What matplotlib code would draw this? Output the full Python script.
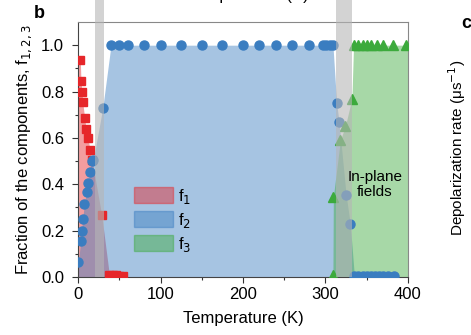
import matplotlib
matplotlib.use("Agg")
import matplotlib.pyplot as plt
from matplotlib.patches import Patch, Rectangle
import matplotlib.transforms as mtransforms
import numpy as np

plt.rcParams['font.family'] = ['Liberation Sans', 'DejaVu Sans']

# f1 (red squares)
T1 = [2.8, 3.6, 4.8, 5.7, 8.1, 9.7, 12, 14.5, 17, 28.7, 38, 42, 46, 50, 54]
f1 = [0.935, 0.846, 0.80, 0.754, 0.685, 0.64, 0.60, 0.55, 0.505, 0.268, 0.01, 0.01, 0.01, 0.005, 0.005]

# f2 (blue circles)
T2 = [0.5, 3.2, 4.4, 5.7, 7.7, 10.5, 12.5, 14.5, 16.6, 18.6, 30, 40, 50, 60, 80, 100, 125, 150, 174,
      200, 219, 240, 259, 280, 297, 301, 305, 309, 313.5, 316.4, 325, 330,
      335, 340, 345, 350, 355, 360, 365, 370, 376, 383]
f2 = [0.063, 0.155, 0.20, 0.25, 0.316, 0.365, 0.405, 0.455, 0.50, 0.505, 0.73, 1.0, 1.0, 1.0, 1.0, 1.0, 1.0, 1.0, 1.0,
      1.0, 1.0, 1.0, 1.0, 1.0, 1.0, 1.0, 1.0, 1.0, 0.75, 0.67, 0.354, 0.23,
      0.005, 0.005, 0.005, 0.005, 0.005, 0.005, 0.005, 0.005, 0.005, 0.005]

# f3 (green triangles)
T3 = [309, 309.5, 318, 324, 332, 334, 340, 345, 350, 355, 362, 370, 382, 397]
f3 = [0.01, 0.346, 0.59, 0.65, 0.77, 1.0, 1.0, 1.0, 1.0, 1.0, 1.0, 1.0, 1.0, 1.0]

# grey temperature bands
bands = [(20, 32), (313, 332)]

c_red = '#e6262a'
c_blue = '#3a7dc0'
c_green = '#3caa3c'

fig = plt.figure(figsize=(4.71, 3.35), dpi=100)
ax = fig.add_axes([78/471, 58/335, 330/471, 255/335])

ax.fill_between([0] + T1, [f1[0]] + f1, color=c_red, alpha=0.45, lw=0, zorder=1)
ax.fill_between(T2, f2, color=c_blue, alpha=0.45, lw=0, zorder=1)
ax.fill_between(T3 + [400], f3 + [f3[-1]], color=c_green, alpha=0.45, lw=0, zorder=1)

ax.plot(T1, f1, 's', color=c_red, ms=6, zorder=3)
ax.plot(T2, f2, 'o', color=c_blue, ms=6.5, zorder=3)
ax.plot(T3, f3, '^', color=c_green, ms=6.5, zorder=3)

# bands run from axes bottom up to top of the figure
trans = mtransforms.blended_transform_factory(ax.transData, ax.transAxes)
for a, b in bands:
    r = Rectangle((a, 0), b - a, 1 + 22/255, transform=trans, color='#b6b6b6', alpha=0.6,
                  lw=0, zorder=4, clip_on=False)
    ax.add_patch(r)

ax.text(360, 0.40, 'In-plane\nfields', ha='center', va='center', fontsize=11, zorder=5,
        linespacing=1.1)

ax.set_xlim(0, 400)
ax.set_ylim(0, 1.1)
ax.set_xticks([0, 100, 200, 300, 400])
ax.set_xticks([50, 150, 250, 350], minor=True)
ax.set_yticks([0, 0.2, 0.4, 0.6, 0.8, 1.0])
ax.set_yticks([0.1, 0.3, 0.5, 0.7, 0.9], minor=True)
ax.tick_params(direction='out', length=4, width=0.8, labelsize=12, colors='#333333', labelcolor='black')
ax.tick_params(axis='y', pad=6)
ax.tick_params(which='minor', direction='out', length=2.5, width=0.8, colors='#333333')
ax.set_yticklabels(['0.0', '0.2', '0.4', '0.6', '0.8', '1.0'])
for s in ['left', 'bottom']:
    ax.spines[s].set_color('#444444')
for s in ['top', 'right']:
    ax.spines[s].set_color('#888888')

ax.set_xlabel('Temperature (K)', fontsize=12, labelpad=6)
ax.set_ylabel('Fraction of the components, f$_{1,2,3}$', fontsize=12, labelpad=5)

handles = [Patch(color=c_red, alpha=0.45), Patch(color=c_blue, alpha=0.45), Patch(color=c_green, alpha=0.45)]
ax.legend(handles, ['f$_1$', 'f$_2$', 'f$_3$'], loc='upper left', bbox_to_anchor=(0.135, 0.40),
          frameon=False, fontsize=12, handlelength=2.3, handleheight=1.1, labelspacing=0.3,
          handletextpad=0.3, borderpad=0.2)

fig.text(39/471, 1 - 14/335, 'b', fontsize=13, fontweight='bold', ha='center', va='center')
fig.text(466/471, 1 - 24/335, 'c', fontsize=13, fontweight='bold', ha='center', va='center')
fig.text(457/471, 1 - 148/335, 'Depolarization rate (\u03bcs$^{-1}$)', rotation=90, fontsize=11,
         ha='center', va='center')
fig.text(248/471, 1.0, 'Temperature (K)', fontsize=12, ha='center', va='baseline')

fig.savefig('out.png', dpi=100)
